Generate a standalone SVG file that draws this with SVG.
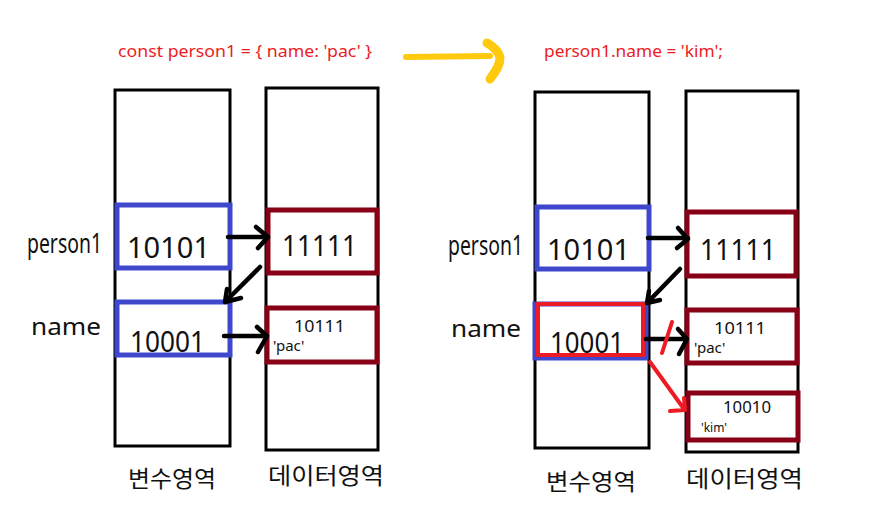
<svg xmlns="http://www.w3.org/2000/svg" width="889" height="523" viewBox="0 0 889 523">
<style>
  .col{fill:none;stroke:#000;stroke-width:3}
  .var{fill:none;stroke:#3f48cc;stroke-width:5}
  .dat{fill:none;stroke:#880015;stroke-width:5}
  .red{fill:none;stroke:#ed1c24;stroke-width:4}
  .t{font-family:"Noto Sans","Open Sans","Liberation Sans",sans-serif;fill:#111}
  .code{font-family:"Noto Sans","Liberation Sans",sans-serif;fill:#ed1c24;font-size:16px}
  .kr{font-family:"Noto Sans CJK KR",sans-serif;fill:#111;font-size:23px}
  .ar{fill:none;stroke:#000;stroke-width:4.5;stroke-linecap:round;stroke-linejoin:round}
  .arr{fill:none;stroke:#ed1c24;stroke-width:4;stroke-linecap:round;stroke-linejoin:round}
</style>
<rect width="889" height="523" fill="#fff"/>

<g id="code-left"><text class="code" x="118" y="57" textLength="254" lengthAdjust="spacingAndGlyphs">const person1 = { name: 'pac' }</text></g>
<g id="code-right"><text class="code" x="544" y="57" textLength="179" lengthAdjust="spacingAndGlyphs">person1.name = 'kim';</text></g>

<g id="yellow-arrow">
  <path d="M406,57 L490,56" fill="none" stroke="#ffc90e" stroke-width="6" stroke-linecap="round"/>
  <path d="M487,43 C493,46 499,52 500,58 C500,66 495,72 490,79" fill="none" stroke="#ffc90e" stroke-width="9" stroke-linecap="round"/>
</g>

<!-- Left side -->
<g id="left-var-col"><rect class="col" x="115" y="90" width="115" height="356"/></g>
<g id="left-data-col"><rect class="col" x="266" y="88" width="112" height="362"/></g>
<g id="left-label-person1"><text class="t" transform="translate(27,253) scale(1,1.4)" x="0" y="0" font-size="20" textLength="75" lengthAdjust="spacingAndGlyphs">person1</text></g>
<g id="left-label-name"><text class="t" x="31" y="335" font-size="24" textLength="70" lengthAdjust="spacingAndGlyphs">name</text></g>
<g id="left-var-10101"><rect class="var" x="117" y="205" width="113" height="63"/><text class="t" x="127" y="258" font-size="29" textLength="83" lengthAdjust="spacingAndGlyphs">10101</text></g>
<g id="left-data-11111"><rect class="dat" x="268" y="210" width="109" height="63"/><text class="t" x="282" y="256" font-size="29" textLength="75" lengthAdjust="spacingAndGlyphs">11111</text></g>
<g id="left-var-10001"><rect class="var" x="117" y="302" width="113" height="53"/><text class="t" x="130" y="352" font-size="29" textLength="75" lengthAdjust="spacingAndGlyphs">10001</text></g>
<g id="left-data-10111"><rect class="dat" x="267" y="308" width="110" height="54"/><text class="t" x="294" y="332" font-size="17" fill="#333" textLength="51" lengthAdjust="spacingAndGlyphs">10111</text><text class="t" x="273" y="351" font-size="15">'pac'</text></g>
<g id="left-kr-var"><text class="kr" x="128" y="487" textLength="88" lengthAdjust="spacingAndGlyphs">변수영역</text></g>
<g id="left-kr-data"><text class="kr" x="268" y="484" textLength="116" lengthAdjust="spacingAndGlyphs">데이터영역</text></g>

<!-- Right side -->
<g id="right-var-col"><rect class="col" x="535" y="92" width="114" height="356"/></g>
<g id="right-data-col"><rect class="col" x="686" y="91" width="112" height="361"/></g>
<g id="right-label-person1"><text class="t" transform="translate(448,255) scale(1,1.4)" x="0" y="0" font-size="20" textLength="75" lengthAdjust="spacingAndGlyphs">person1</text></g>
<g id="right-label-name"><text class="t" x="451" y="337" font-size="24" textLength="70" lengthAdjust="spacingAndGlyphs">name</text></g>
<g id="right-var-10101"><rect class="var" x="537" y="207" width="112" height="62"/><text class="t" x="547" y="260" font-size="29" textLength="83" lengthAdjust="spacingAndGlyphs">10101</text></g>
<g id="right-data-11111"><rect class="dat" x="687" y="212" width="109" height="64"/><text class="t" x="700" y="260" font-size="29" textLength="76" lengthAdjust="spacingAndGlyphs">11111</text></g>
<g id="right-var-10001"><rect class="var" x="535" y="304" width="111" height="54"/><rect class="red" x="538" y="304" width="105" height="51"/><text class="t" x="550" y="353" font-size="29" textLength="74" lengthAdjust="spacingAndGlyphs">10001</text></g>
<g id="right-data-10111"><rect class="dat" x="687" y="310" width="110" height="53"/><text class="t" x="714" y="334" font-size="17" fill="#333" textLength="52" lengthAdjust="spacingAndGlyphs">10111</text><text class="t" x="694" y="353" font-size="15">'pac'</text></g>
<g id="right-data-10010"><rect class="dat" x="688" y="393" width="110" height="47"/><text class="t" x="723" y="413" font-size="16" textLength="48" lengthAdjust="spacingAndGlyphs">10010</text><text class="t" x="701" y="432" font-size="12" fill="#333">'kim'</text></g>
<g id="right-kr-var"><text class="kr" x="546" y="490" textLength="90" lengthAdjust="spacingAndGlyphs">변수영역</text></g>
<g id="right-kr-data"><text class="kr" x="686" y="487" textLength="117" lengthAdjust="spacingAndGlyphs">데이터영역</text></g>

<g id="connectors">
  <path class="ar" d="M228,237 L268,237 M256,227 L268,237 L258,248"/>
  <path class="ar" d="M260,267 L226,301 M227,289 L225,302 L241,298"/>
  <path class="ar" d="M224,336 L267,336 M257,327 L267,336 L258,352"/>
  <path class="ar" d="M648,238 L688,238 M678,228 L688,239 L677,248"/>
  <path class="ar" d="M680,269 L648,302 M649,291 L647,303 L660,300"/>
  <path class="ar" d="M646,339 L687,339 M678,329 L687,339 L679,354"/>
  <path class="arr" d="M672,322 L662,353"/>
  <path class="arr" d="M650,362 L684,409 M684,398 L685,410 L670,411"/>
</g>
</svg>
